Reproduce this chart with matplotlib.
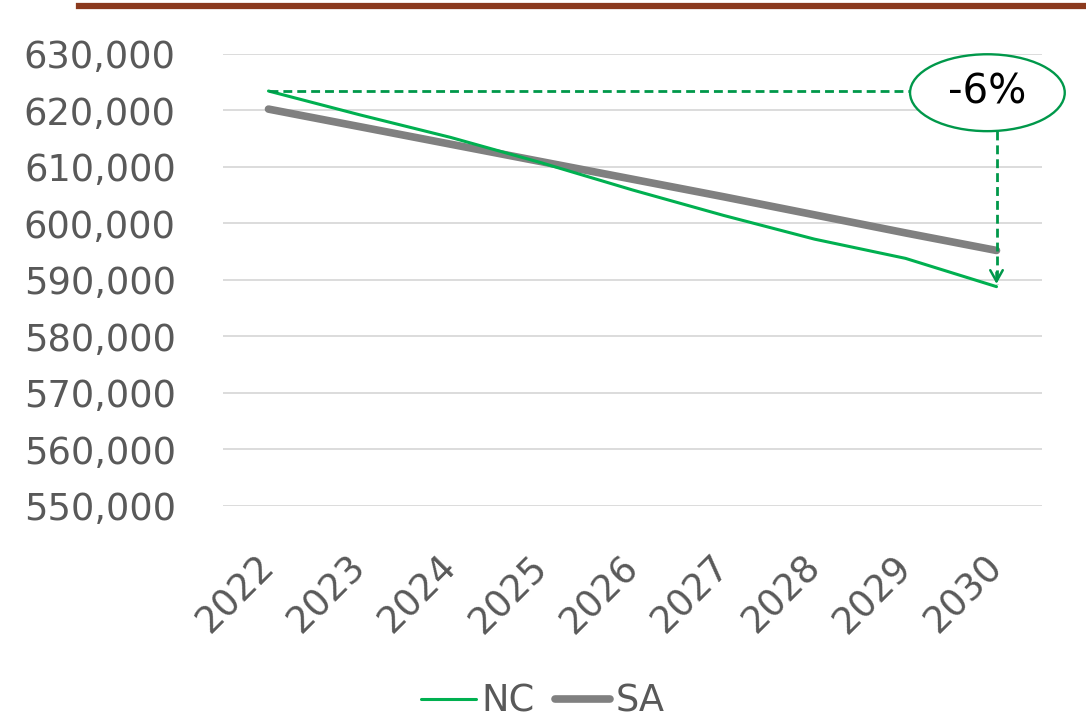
import matplotlib
matplotlib.use("Agg")
from matplotlib import pyplot as plt
from matplotlib.patches import Ellipse
from matplotlib.lines import Line2D
from matplotlib.ticker import FuncFormatter

anos = ["2022", "2023", "2024", "2025", "2026", "2027", "2028", "2029", "2030"]
nc = [623400, 619200, 615200, 610700, 605900, 601400, 597200, 593800, 588800]
sa = [620200, 617100, 614000, 610900, 607800, 604700, 601500, 598300, 595200]
rotulo = "-6%"

verde = "#00b050"
verde_esc = "#00984a"
cinza = "#808080"
texto = "#595959"

fig = plt.figure(figsize=(10.86, 7.21), dpi=100)
ax = fig.add_axes([223/1086, 1-506/721, (1042-223)/1086, (506-53.7)/721])

x = list(range(len(anos)))
ax.plot(x, nc, color=verde, lw=2.2, solid_capstyle="round", label="NC", zorder=3)
ax.plot(x, sa, color=cinza, lw=5.5, solid_capstyle="round", label="SA", zorder=2)

ax.set_xlim(-0.5, len(anos)-0.5)
ax.set_ylim(550000, 630000)
ax.set_yticks(range(550000, 630001, 10000))
ax.yaxis.set_major_formatter(FuncFormatter(lambda v, p: f"{int(v):,}"))
ax.set_xticks(x)
ax.set_xticklabels(anos, rotation=45, ha="right", va="center", rotation_mode="anchor")
ax.grid(axis="y", color="#d9d9d9", lw=1.3)
ax.set_axisbelow(True)
for s in ax.spines.values():
    s.set_visible(False)
ax.tick_params(axis="y", length=0, pad=34, labelsize=26.5, labelcolor=texto)
ax.tick_params(axis="x", length=0, pad=40, labelsize=26.5, labelcolor=texto)

# anotação da variação
pos_el = 7.9
alt_el = 13600
tracejado = dict(color=verde_esc, lw=2.0, dashes=(3.2, 1.8))
ax.plot([0, pos_el-0.85], [nc[0], nc[0]], clip_on=False, zorder=4, **tracejado)
el = Ellipse((pos_el, nc[0]-300), 1.7, alt_el, facecolor="white",
             edgecolor=verde_esc, lw=1.7, clip_on=False, zorder=5)
ax.add_patch(el)
ax.text(pos_el, nc[0]-300, rotulo, fontsize=29, color="black",
        ha="center", va="center", zorder=6)
ax.plot([8, 8], [nc[0]-300-alt_el/2, nc[-1]+500], zorder=4, **tracejado)
ax.annotate("", xy=(8, nc[-1]), xytext=(8, nc[-1]+3000),
            arrowprops=dict(arrowstyle="->,head_length=0.8,head_width=0.45",
                            color=verde_esc, lw=1.8), zorder=4)

fig.legend(loc="center", bbox_to_anchor=(0.5, 1-701/721), ncol=2, frameon=False,
           fontsize=26.5, labelcolor=texto, handlelength=1.5, handletextpad=0.15,
           columnspacing=0.55)

fig.add_artist(Line2D([79/1086, 1], [1-6/721, 1-6/721], color="#8b3a1e", lw=4.5))

fig.savefig("out.png", dpi=100)
